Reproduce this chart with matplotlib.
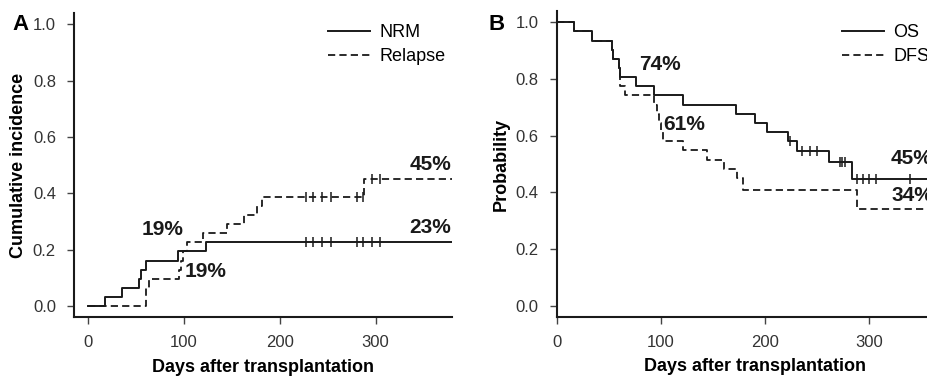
import numpy as np
import matplotlib.pyplot as plt

plt.rcParams['font.family'] = ['Liberation Sans', 'DejaVu Sans']

# Panel A: cumulative incidence
nrm_t = [0, 18, 35, 53, 55, 60, 94, 123, 380]
nrm_v = [0.0, 0.032, 0.065, 0.097, 0.129, 0.161, 0.194, 0.226, 0.226]
rel_t = [0, 60, 64, 95, 97, 99, 103, 120, 145, 163, 176, 181, 288, 380]
rel_v = [0.0, 0.065, 0.097, 0.129, 0.161, 0.194, 0.226, 0.258, 0.290, 0.323,
         0.355, 0.387, 0.452, 0.452]
cens_a = [227, 235, 244, 253, 281, 287, 296, 305]

# Panel B: survival
os_t = [0, 17, 34, 53, 54, 60, 61, 76, 93, 121, 172, 190, 202, 222, 231, 261, 284, 380]
os_v = [1.0, 0.968, 0.935, 0.903, 0.871, 0.839, 0.806, 0.774, 0.742, 0.710, 0.677,
        0.645, 0.613, 0.581, 0.547, 0.507, 0.448, 0.448]
dfs_t = [0, 17, 34, 53, 54, 60, 61, 66, 93, 96, 98, 100, 102, 121, 144, 161, 173,
         179, 288, 380]
dfs_v = [1.0, 0.968, 0.935, 0.903, 0.871, 0.839, 0.774, 0.742, 0.710, 0.677, 0.645,
         0.613, 0.581, 0.548, 0.516, 0.484, 0.452, 0.410, 0.342, 0.342]
cens_os = [224, 236, 243, 250, 272, 274, 277, 288, 294, 300, 307, 339]

col = '#1a1a1a'
tcol = '#333333'


def val_at(t, v, x):
    i = np.searchsorted(t, x, side='right') - 1
    return np.array(v)[i]


def curve(ax, t, v, cens, ls):
    if ls == '-':
        ax.step(t, v, where='post', color=col, lw=1.4)
    else:
        ax.step(t, v, where='post', color=col, lw=1.3, dashes=(4, 2.3))
    if cens is not None:
        ax.plot(cens, val_at(t, v, cens), ls='none', marker='|', ms=7, mew=1.1, color=col)


def style(ax):
    for s in ['top', 'right']:
        ax.spines[s].set_visible(False)
    for s in ['left', 'bottom']:
        ax.spines[s].set_linewidth(1.5)
        ax.spines[s].set_color(col)
    ax.tick_params(length=5, width=1.0, color='#444444', pad=8,
                   labelsize=12, labelcolor=tcol)
    ax.set_yticks([0.0, 0.2, 0.4, 0.6, 0.8, 1.0])
    ax.set_yticklabels(['0.0', '0.2', '0.4', '0.6', '0.8', '1.0'])
    ax.set_xticks([0, 100, 200, 300])
    ax.set_ylim(-0.04, 1.04)


def legend(ax, x0):
    ax.legend(loc='upper left', bbox_to_anchor=(x0 / 927, 1 - 24 / 377),
              bbox_transform=fig.transFigure, frameon=False, fontsize=13,
              handlelength=2.3, handletextpad=0.55, labelspacing=0.38, borderpad=0,
              borderaxespad=0)


fig = plt.figure(figsize=(9.27, 3.77), dpi=100)

ax1 = fig.add_axes([0.0798, 0.158, 0.4078, 0.808])
curve(ax1, nrm_t, nrm_v, cens_a, '-')
curve(ax1, rel_t, rel_v, cens_a, '--')
style(ax1)
ax1.set_xlim(-14.6, 379.6)
ax1.set_xlabel('Days after transplantation', fontsize=13, fontweight='bold', labelpad=6)
ax1.set_ylabel('Cumulative incidence', fontsize=13, fontweight='bold', labelpad=4)
kw = dict(fontsize=15, fontweight='bold', color=col, va='center')
ax1.text(78, 0.273, '19%', ha='center', **kw)
ax1.text(123, 0.124, '19%', ha='center', **kw)
ax1.text(379, 0.502, '45%', ha='right', **kw)
ax1.text(379, 0.278, '23%', ha='right', **kw)
ax1.plot([], [], color=col, lw=1.4, label='NRM')
ax1.plot([], [], color=col, lw=1.3, dashes=(4, 2.3), label='Relapse')
legend(ax1, 328)
fig.text(12 / 927, 1 - 24 / 377, 'A', fontsize=16, fontweight='bold', va='center')

ax2 = fig.add_axes([0.6005, 0.159, 0.427, 0.8117])
curve(ax2, os_t, os_v, cens_os, '-')
curve(ax2, dfs_t, dfs_v, None, '--')
style(ax2)
ax2.set_xlim(0, 380)
ax2.set_xlabel('Days after transplantation', fontsize=13, fontweight='bold', labelpad=6)
ax2.set_ylabel('Probability', fontsize=13, fontweight='bold', labelpad=4)
ax2.text(99, 0.853, '74%', ha='center', **kw)
ax2.text(122, 0.641, '61%', ha='center', **kw)
ax2.text(321, 0.518, '45%', ha='left', **kw)
ax2.text(321, 0.389, '34%', ha='left', **kw)
ax2.plot([], [], color=col, lw=1.4, label='OS')
ax2.plot([], [], color=col, lw=1.3, dashes=(4, 2.3), label='DFS')
legend(ax2, 842)
fig.text(488 / 927, 1 - 24 / 377, 'B', fontsize=16, fontweight='bold', va='center')

fig.savefig('out.png', dpi=100)
